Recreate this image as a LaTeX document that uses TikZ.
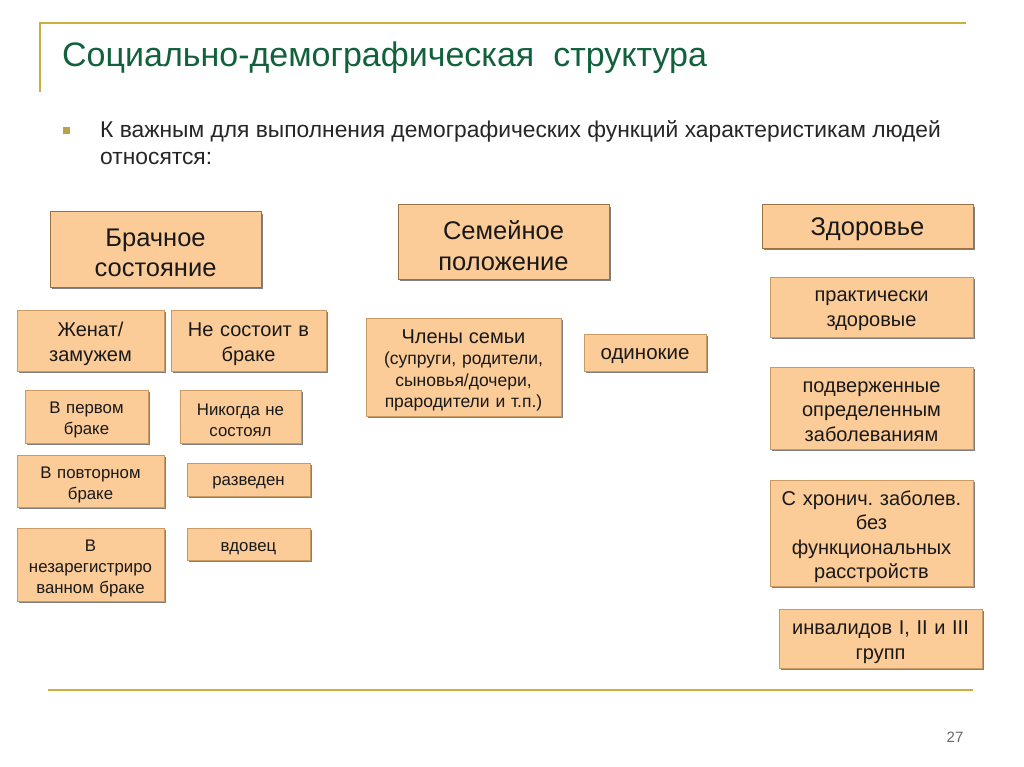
\documentclass[tikz,border=0pt]{standalone}
\usepackage{fontspec}
\setmainfont{Liberation Sans}
\usetikzlibrary{shadows}
\definecolor{peach}{HTML}{FBCB98}
\definecolor{peachline}{HTML}{C99A63}
\definecolor{headline}{HTML}{9C7142}
\definecolor{titlegreen}{HTML}{11613C}
\definecolor{goldline}{HTML}{CDAE3C}
\definecolor{bulletgold}{HTML}{B9A24A}
\frenchspacing

\begin{document}
\begin{tikzpicture}[x=1pt, y=-1pt,
  box/.style = {draw=peachline, fill=peach, line width=0.6pt, align=center,
    inner sep=1pt, text=black!90, execute at end node={\vspace*{-7pt}},
    drop shadow={shadow xshift=1.6pt, shadow yshift=-1.6pt, fill=black!55, opacity=0.9}},
  single/.style = {execute at end node={}, text height=#1, text depth=1pt},
  headbox/.style = {box, draw=headline, line width=1pt, font=\fontsize{25.5}{30.5}\selectfont},
  midbox/.style = {box, font=\fontsize{20}{25}\selectfont},
  smallbox/.style = {box, font=\fontsize{16.8}{21}\selectfont},
  rightbox/.style = {box, font=\fontsize{20}{24.5}\selectfont}]
  \useasboundingbox (0,0) rectangle (1024,767);
  \fill[white] (0,0) rectangle (1024,767);

  % frame lines
  \draw[goldline, line width=1.8pt] (40,92) -- (40,23) -- (966,23);
  \draw[goldline, line width=1.8pt] (48,690) -- (973,690);

  % title and lead text
  \node[anchor=west, text=titlegreen, font=\fontsize{34}{40}\selectfont, inner sep=0pt]
    (title) at (62,58) {Социально-демографическая\ \ структура};
  \fill[bulletgold] (63,127) rectangle (70,134);
  \node[anchor=north west, align=left, text=black!85, font=\fontsize{22.8}{27}\selectfont,
    inner sep=0pt] (lead) at (100,120)
    {К важным для выполнения демографических функций характеристикам людей\\
     относятся:};

  % column 1
  \node[headbox, minimum width=211, minimum height=75, text width=205]
    (brak) at (155.5,249.5) {Брачное\\состояние};
  \node[midbox, minimum width=147, minimum height=61, text width=143]
    (zhenat) at (90.5,340.5) {Женат/\\замужем};
  \node[midbox, minimum width=155, minimum height=61, text width=151]
    (nesost) at (248.5,340.5) {Не состоит в\\браке};
  \node[smallbox, minimum width=123, minimum height=53, text width=119]
    (pervom) at (86.5,416.5) {В первом\\браке};
  \node[smallbox, minimum width=147, minimum height=52, text width=143]
    (povtor) at (90.5,481) {В повторном\\браке};
  \node[smallbox, minimum width=147, minimum height=73, text width=143]
    (nezar) at (90.5,564.5) {В\\незарегистриро\\ванном браке};
  \node[smallbox, minimum width=121, minimum height=53, text width=117]
    (nikogda) at (240.5,416.5) {Никогда не\\состоял};
  \node[smallbox, single=13pt, minimum width=123, minimum height=33]
    (razved) at (248.5,479.5) {разведен};
  \node[smallbox, single=15pt, minimum width=123, minimum height=32]
    (vdovec) at (248.5,544) {вдовец};

  % column 2
  \node[headbox, minimum width=211, minimum height=74, text width=205]
    (semya) at (503.5,242) {Семейное\\положение};
  \node[box, minimum width=195, minimum height=98, text width=191,
    font=\fontsize{17.5}{21.5}\selectfont]
    (chleny) at (463.5,367) {{\fontsize{20}{21.5}\selectfont Члены семьи}\\(супруги, родители,\\сыновья/дочери,\\прародители и т.п.)};
  \node[midbox, single=14.5pt, minimum width=122, minimum height=37,
    font=\fontsize{20.5}{25}\selectfont]
    (odin) at (645,352.5) {одинокие};

  % column 3
  \node[headbox, minimum width=211, minimum height=43, text width=205]
    (zdor) at (867.5,226.5) {Здоровье};
  \node[rightbox, minimum width=203, minimum height=60, text width=199]
    (prakt) at (871.5,307) {практически\\здоровые};
  \node[rightbox, minimum width=203, minimum height=82, text width=199]
    (podv) at (871.5,408) {подверженные\\определенным\\заболеваниям};
  \node[rightbox, minimum width=203, minimum height=106, text width=199]
    (hron) at (871.5,533) {С хронич. заболев.\\без\\функциональных\\расстройств};
  \node[rightbox, minimum width=203, minimum height=59, text width=199]
    (invalid) at (880.5,638.5) {инвалидов I, II и III\\групп};

  % page number
  \node[text=black!60, font=\fontsize{15}{17}\selectfont] (page) at (955,737) {27};
\end{tikzpicture}
\end{document}
